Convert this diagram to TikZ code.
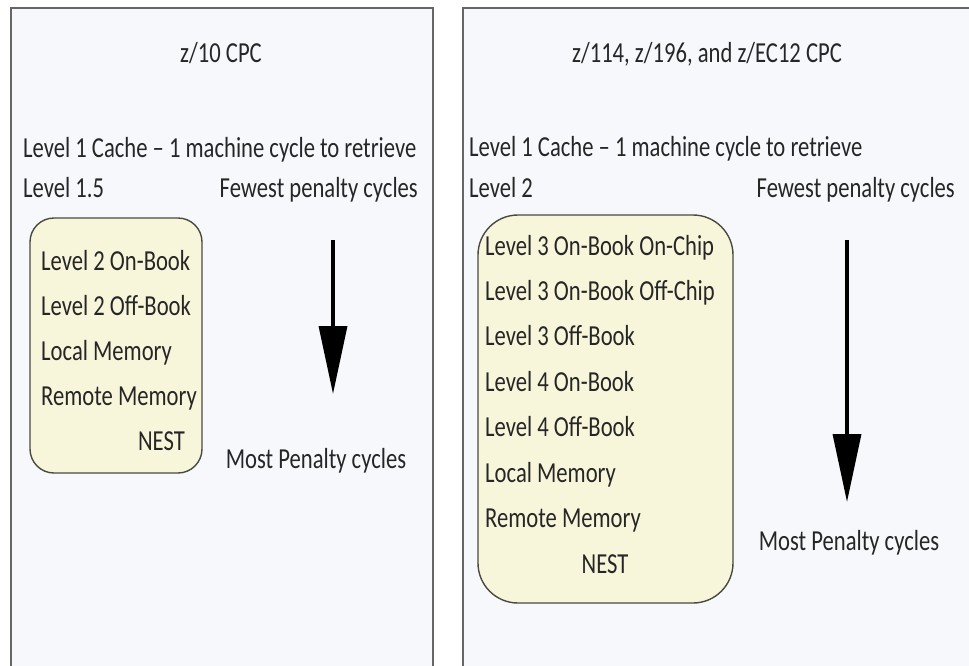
\documentclass[tikz,border=0pt]{standalone}
\usepackage{fontspec}
\setmainfont{Carlito}[FakeStretch=0.78]
\usetikzlibrary{arrows.meta}
\definecolor{panelbg}{HTML}{F7F8FB}
\definecolor{boxbg}{HTML}{F8F6DA}
\definecolor{boxline}{HTML}{4A4A42}
\definecolor{inkc}{HTML}{262626}
\tikzset{
  panel/.style={draw=black!60, line width=1.6pt, fill=panelbg},
  cachebox/.style={draw=boxline, line width=1.4pt, fill=boxbg},
  txt/.style={inner sep=0pt, text=inkc, font=\fontsize{29}{34}\selectfont, anchor=base},
  item/.style={txt, anchor=base west},
  penalty/.style={-{Triangle[width=28pt,length=68pt]}, line width=3.5pt, black},
}

\begin{document}
\begin{tikzpicture}[x=1pt,y=-1pt]
        \useasboundingbox (0,0) rectangle (969,665);
        % the two panels
        \draw[panel] (11,8) rectangle (433,672);
        \draw[panel] (463,8) rectangle (975,672);

        % left panel: z/10
        \node[txt] (ltitle) at (221,62) {z/10 CPC};
        \node[item] (ll1) at (23,157) {Level 1 Cache -- 1 machine cycle to retrieve};
        \node[item] (ll15) at (23,197) {Level 1.5};
        \node[txt, anchor=base east] (lfew) at (418,197) {Fewest penalty cycles};
        \draw[cachebox, rounded corners=24pt] (30,218) rectangle (202,473);
        \foreach \t [count=\i] in {Level 2 On-Book,Level 2 Off-Book,Local Memory,Remote Memory}{
          \node[item] (litem\i) at (41,225+45*\i) {\t};
        }
        \node[txt, anchor=base east] (lnest) at (185,450) {NEST};
        \coordinate (lfrom) at (333,240);
        \coordinate (lto) at (333,394);
        \draw[penalty] (lfrom) -- (lto);
        \node[txt] (lmost) at (316,468) {Most Penalty cycles};

        % right panel: z/114, z/196, z/EC12
        \node[txt] (rtitle) at (707,62) {z/114, z/196, and z/EC12 CPC};
        \node[item] (rl1) at (469,156) {Level 1 Cache -- 1 machine cycle to retrieve};
        \node[item] (rl2) at (469,197) {Level 2};
        \node[txt, anchor=base east] (rfew) at (955,197) {Fewest penalty cycles};
        \draw[cachebox, rounded corners=40pt] (478,215) rectangle (733,603);
        \foreach \t [count=\i] in {Level 3 On-Book On-Chip,Level 3 On-Book Off-Chip,Level 3 Off-Book,Level 4 On-Book,Level 4 Off-Book,Local Memory,Remote Memory}{
          \node[item] (ritem\i) at (485,209.6+45.4*\i) {\t};
        }
        \node[txt] (rnest) at (605,573) {NEST};
        \coordinate (rfrom) at (847,240);
        \coordinate (rto) at (847,502);
        \draw[penalty] (rfrom) -- (rto);
        \node[txt] (rmost) at (849,550) {Most Penalty cycles};
\end{tikzpicture}
\end{document}
